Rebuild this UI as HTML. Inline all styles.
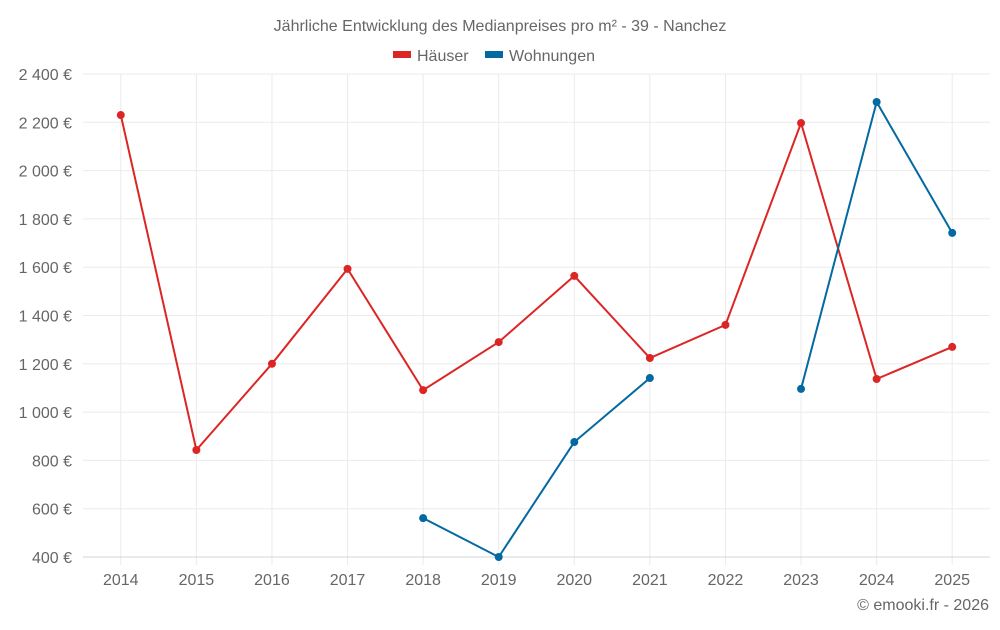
<!DOCTYPE html>
<html><head><meta charset="utf-8"><style>
body{margin:0;background:#fff;width:1000px;height:625px;overflow:hidden;font-family:"Liberation Sans",sans-serif}
svg text{font-family:"Liberation Sans",sans-serif;fill:#666}
</style></head><body>
<svg id="chart" width="1000" height="625">
<text x="500" y="31" text-anchor="middle" font-size="16">Jährliche Entwicklung des Medianpreises pro m² - 39 - Nanchez</text>
<g>
<g><rect x="393" y="51" width="18" height="7" fill="#dc2626"/><text x="417" y="61" font-size="16">Häuser</text></g>
<g><rect x="485" y="51" width="18" height="7" fill="#0369a1"/><text x="509" y="61" font-size="16">Wohnungen</text></g>
</g>
<g id="grid"></g><g id="axes"></g><g id="series"></g>
<text x="989" y="610" text-anchor="end" font-size="16">© emooki.fr - 2026</text>
</svg>
<script>
const years=["2014","2015","2016","2017","2018","2019","2020","2021","2022","2023","2024","2025"];
const haeuser=[2230,843,1200,1593,1091,1290,1564,1224,1361,2197,1137,1270];
const wohnungen=[null,null,null,null,561,400,876,1141,null,1096,2284,1742];
const yTicks=[400,600,800,1000,1200,1400,1600,1800,2000,2200,2400];
const yTickLabels=["400 €","600 €","800 €","1 000 €","1 200 €","1 400 €","1 600 €","1 800 €","2 000 €","2 200 €","2 400 €"];
const L=83,R=990,T=74,B=557,ns="http://www.w3.org/2000/svg";
const bw=(R-L)/years.length;
const x=i=>L+bw*(i+0.5);
const y=v=>B-(v-400)/2000*(B-T);
function mk(tag,attrs,parent){const e=document.createElementNS(ns,tag);for(const k in attrs)e.setAttribute(k,attrs[k]);document.getElementById(parent).appendChild(e);return e;}
years.forEach((yr,i)=>{
 const g=mk("line",{x1:x(i),x2:x(i),y1:T,y2:B+8,stroke:"#ebebeb"},"grid");
 
 
 const l=mk("text",{x:x(i),y:585,"text-anchor":"middle","font-size":"16"},"axes");l.textContent=yr;
 
 
});
yTicks.forEach((v,i)=>{
 const g=mk("line",{x1:L,x2:R,y1:y(v),y2:y(v),stroke:i===0?"#d4d4d4":"#ebebeb"},"grid");
 
 
 const t=mk("text",{x:72,y:y(v)+6,"text-anchor":"end","font-size":"16"},"axes");t.textContent=yTickLabels[i];
 
 
});
function drawSeries(data,color,name){
 let segs=[],cur=[];
 data.forEach((v,i)=>{if(v==null){if(cur.length)segs.push(cur);cur=[];}else cur.push([x(i),y(v)]);});
 if(cur.length)segs.push(cur);
 segs.forEach(s=>{
  const p=mk("polyline",{points:s.map(q=>q.join(",")).join(" "),fill:"none",stroke:color,"stroke-width":2},"series");
  
  
 });
 data.forEach((v,i)=>{if(v==null)return;
  const c=mk("circle",{cx:x(i),cy:y(v),r:4,fill:color},"series");
  
  
 });
}
drawSeries(haeuser,"#dc2626","haeuser");
drawSeries(wohnungen,"#0369a1","wohnungen");
</script>
</body></html>
